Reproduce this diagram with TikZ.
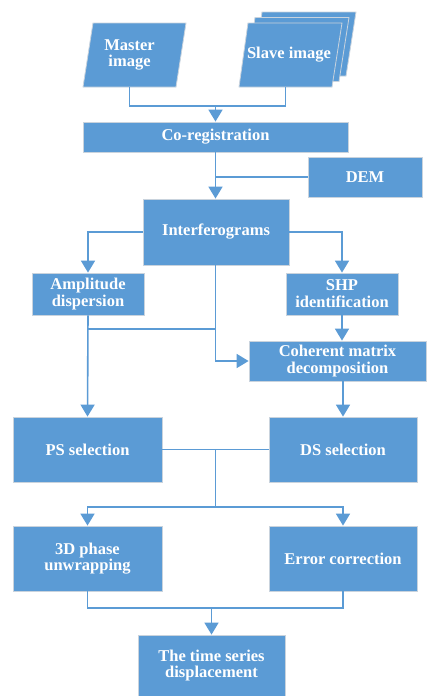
\documentclass[tikz,border=0pt]{standalone}
\usepackage{fontspec}
\setmainfont{Liberation Serif}
\usetikzlibrary{arrows.meta}
\definecolor{boxblue}{HTML}{5B9BD5}
\definecolor{boxedge}{HTML}{C9D3DD}
\begin{document}
\begin{tikzpicture}[x=1pt,y=-1pt,
  box/.style={rectangle,fill=boxblue,draw=boxedge,line width=0.8pt,inner sep=2pt,
    text=white,font=\fontsize{16.5}{16.8}\selectfont\bfseries,align=center},
  para/.style={fill=boxblue,draw=boxedge,line width=0.8pt},
  ptext/.style={inner sep=0pt,text=white,font=\fontsize{16.5}{16.8}\selectfont\bfseries,align=center},
  link/.style={draw=boxblue,line width=1.6pt},
  arr/.style={link,-{Triangle[width=14pt,length=12pt]}}]
\useasboundingbox (0,0) rectangle (426,696);
\fill[white] (0,0) rectangle (426,696);
% parallelograms
\path[para] (262,12) -- (356,12) -- (346,76) -- (253,76) -- cycle;
\path[para] (255,17.5) -- (349,17.5) -- (339,81.5) -- (246,81.5) -- cycle;
\path[para] (248,23) -- (342,23) -- (332,87) -- (239,87) -- cycle;
\path[para] (93,23) -- (186,23) -- (176,87) -- (83,87) -- cycle;
\node[ptext,minimum width=83pt,minimum height=64pt] (master) at (129.5,55) {Master\\image};
\node[ptext,minimum width=93pt,minimum height=64pt] (slave) at (289,55) {Slave image};
% boxes
\node[box,minimum width=265pt,minimum height=30pt] (coreg) at (215.5,137) {Co-registration};
\node[box,minimum width=114pt,minimum height=40pt] (dem) at (365,177) {DEM};
\node[box,minimum width=146pt,minimum height=66pt] (interf) at (216,232) {Interferograms};
\node[box,minimum width=112pt,minimum height=42pt] (amp) at (88,294) {Amplitude\\dispersion};
\node[box,minimum width=112pt,minimum height=42pt] (shp) at (342,294) {SHP\\identification};
\node[box,minimum width=177pt,minimum height=40pt] (coh) at (337.5,361) {Coherent matrix\\decomposition};
\node[box,minimum width=149pt,minimum height=65pt] (ps) at (87.5,449.5) {PS selection};
\node[box,minimum width=148pt,minimum height=65pt] (ds) at (343,449.5) {DS selection};
\node[box,minimum width=149pt,minimum height=65pt] (unw) at (87.5,558.5) {3D phase\\unwrapping};
\node[box,minimum width=148pt,minimum height=65pt] (err) at (343,558.5) {Error correction};
\node[box,minimum width=147pt,minimum height=61pt] (ts) at (211.5,665.5) {The time series\\displacement};
% junction coordinates
\coordinate (j1) at (215.5,106);
\coordinate (j2) at (215.5,177);
\coordinate (j3) at (215.5,329);
\coordinate (j4) at (215.5,449.5);
\coordinate (j5) at (215.5,507);
\coordinate (j6) at (211.5,608);
\coordinate (mb) at (129.5,87);
\coordinate (sb) at (285.5,87);
% connectors
\draw[link] (mb) |- (j1) -| (sb);
\draw[arr] (j1) -- (coreg.north);
\draw[arr] (coreg.south) -- (coreg.south |- interf.north);
\draw[link] (dem.west) -- (j2);
\draw[arr] (interf.west) -| (amp.north);
\draw[arr] (interf.east) -| (shp.north);
\draw[arr] (interf.south -| j3) |- (coh.west);
\draw[arr] (amp.south) -- (ps.north);
\draw[link] (amp.south |- j3) -- (j3);
\draw[arr] (shp.south) -- (shp.south |- coh.north);
\draw[arr] (ds.north |- coh.south) -- (ds.north);
\draw[link] (ps.east) -- (ds.west);
\draw[link] (j4) -- (j5);
\draw[arr] (j5) -| (unw.north);
\draw[arr] (j5) -| (err.north);
\draw[link] (unw.south) |- (j6) -| (err.south);
\draw[arr] (j6) -- (ts.north);
\end{tikzpicture}
\end{document}
